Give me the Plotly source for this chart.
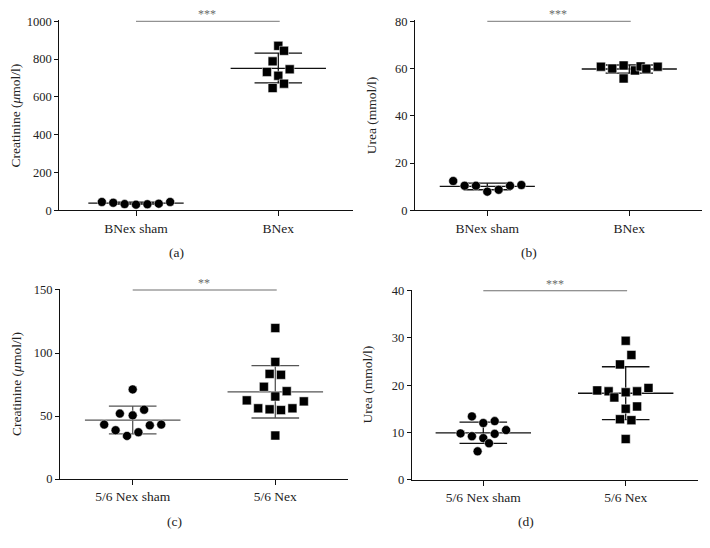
import plotly.graph_objects as go

# ---------------- data ----------------
groups_ab = ["BNex sham", "BNex"]
groups_cd = ["5/6 Nex sham", "5/6 Nex"]

# (a) Creatinine, BNex
a_sham = [44, 40, 33, 30, 32, 35, 44]
a_sham_dx = [-0.24, -0.16, -0.08, 0.0, 0.08, 0.16, 0.24]
a_bnex = [870, 844, 788, 746, 732, 712, 670, 647]
a_bnex_dx = [0.0, 0.04, -0.04, 0.08, -0.08, 0.0, 0.04, -0.04]
a_mean = [38, 751]
a_sd_lo = [33, 674]
a_sd_hi = [43, 832]

# (b) Urea, BNex
b_sham = [12.4, 10.4, 10.4, 7.9, 8.7, 10.4, 10.7]
b_sham_dx = [-0.24, -0.16, -0.08, 0.0, 0.08, 0.16, 0.24]
b_bnex = [60.8, 60.0, 61.3, 55.8, 59.2, 60.9, 59.9, 60.8]
b_bnex_dx = [-0.2, -0.12, -0.04, -0.04, 0.04, 0.08, 0.12, 0.2]
b_mean = [10.1, 59.8]
b_sd_lo = [8.7, 58.1]
b_sd_hi = [11.5, 61.5]

# (c) Creatinine, 5/6 Nex
c_sham = [71.1, 51.9, 50.5, 55.0, 43.2, 38.7, 34.2, 37.1, 42.6, 43.2]
c_sham_dx = [0.0, -0.09, 0.0, 0.08, -0.2, -0.12, -0.04, 0.04, 0.12, 0.2]
c_nex = [119.8, 92.9, 83.4, 82.7, 73.2, 69.7, 65.5, 62.4, 56.1, 55.3, 54.7, 56.1, 61.6, 34.5]
c_nex_dx = [0.0, 0.0, -0.04, 0.04, -0.08, 0.08, 0.0, -0.2, -0.12, -0.04, 0.04, 0.12, 0.2, 0.0]
c_mean = [46.8, 69.2]
c_sd_lo = [35.8, 48.4]
c_sd_hi = [57.9, 90.0]

# (d) Urea, 5/6 Nex
d_sham = [13.4, 12.0, 12.4, 9.8, 9.2, 8.8, 9.7, 10.5, 7.7, 6.0]
d_sham_dx = [-0.08, 0.0, 0.08, -0.16, -0.08, 0.0, 0.08, 0.16, 0.04, -0.04]
d_nex = [29.4, 26.4, 24.4, 18.9, 18.7, 17.4, 18.5, 18.7, 19.4, 15.0, 15.5, 12.8, 12.6, 8.6]
d_nex_dx = [0.0, 0.04, -0.04, -0.2, -0.12, -0.08, 0.0, 0.08, 0.16, 0.0, 0.08, -0.04, 0.04, 0.0]
d_mean = [9.9, 18.3]
d_sd_lo = [7.7, 12.7]
d_sd_hi = [12.2, 23.9]

y_titles = ["Creatinine (<i>μ</i>mol/l)", "Urea (mmol/l)", "Creatinine (<i>μ</i>mol/l)", "Urea (mmol/l)"]
y_max = [1000, 80, 150, 40]
y_dtick = [200, 20, 50, 10]
stars = ["***", "***", "**", "***"]
panel_labels = ["(a)", "(b)", "(c)", "(d)"]

# ---------------- layout geometry (pixels, page coordinates) ----------------
W, H = 710, 548
OFF = 8  # default page body margin
FONT = "Liberation Serif"
TXT = "#222222"

panels = [
    dict(sham=a_sham, sdx=a_sham_dx, trt=a_bnex, tdx=a_bnex_dx, mean=a_mean, lo=a_sd_lo, hi=a_sd_hi,
         cats=groups_ab, x0=59.3, x1=352.7, y0=20.3, y1=210.3, c0=136.0, c1=278.3, lc="#111111"),
    dict(sham=b_sham, sdx=b_sham_dx, trt=b_bnex, tdx=b_bnex_dx, mean=b_mean, lo=b_sd_lo, hi=b_sd_hi,
         cats=groups_ab, x0=415.0, x1=701.7, y0=20.3, y1=210.3, c0=487.3, c1=629.3, lc="#111111"),
    dict(sham=c_sham, sdx=c_sham_dx, trt=c_nex, tdx=c_nex_dx, mean=c_mean, lo=c_sd_lo, hi=c_sd_hi,
         cats=groups_cd, x0=60.0, x1=348.0, y0=289.0, y1=479.0, c0=132.7, c1=275.3, lc="#555555"),
    dict(sham=d_sham, sdx=d_sham_dx, trt=d_nex, tdx=d_nex_dx, mean=d_mean, lo=d_sd_lo, hi=d_sd_hi,
         cats=groups_cd, x0=411.7, x1=698.3, y0=289.7, y1=479.7, c0=483.3, c1=625.7, lc="#111111"),
]


def px(v):
    return (v - OFF) / W


def py(v):
    return 1 - (v - OFF) / H


fig = go.Figure()
layout = dict(width=W, height=H, margin=dict(l=0, r=0, t=0, b=0, autoexpand=False),
              paper_bgcolor="white", plot_bgcolor="white", showlegend=False,
              font=dict(family=FONT, size=13, color=TXT))
annotations = []

MEAN_HW = 0.335
SD_HW = 0.167

for i, p in enumerate(panels):
    sfx = "" if i == 0 else str(i + 1)
    xa, ya = "x" + sfx, "y" + sfx
    sp = p["c1"] - p["c0"]
    xr = [-(p["c0"] - p["x0"]) / sp, 1 + (p["x1"] - p["c1"]) / sp]
    ymax = y_max[i]
    top = ymax * (1 + 1.0 / (p["y1"] - p["y0"]))

    # error bars (mean line, SD caps, vertical)
    ex, ey = [], []
    for k in range(2):
        m, lo, hi = p["mean"][k], p["lo"][k], p["hi"][k]
        ex += [k - MEAN_HW, k + MEAN_HW, None, k - SD_HW, k + SD_HW, None,
               k - SD_HW, k + SD_HW, None, k, k, None]
        ey += [m, m, None, hi, hi, None, lo, lo, None, lo, hi, None]
    fig.add_trace(go.Scatter(x=ex, y=ey, mode="lines", xaxis=xa, yaxis=ya,
                             line=dict(color=p["lc"], width=1.3), hoverinfo="skip"))

    # significance line
    fig.add_trace(go.Scatter(x=[0, 1.01], y=[ymax, ymax], mode="lines", xaxis=xa, yaxis=ya,
                             line=dict(color="#6e6e6e", width=1.1), hoverinfo="skip"))

    # points
    fig.add_trace(go.Scatter(x=[0 + d for d in p["sdx"]], y=p["sham"], mode="markers",
                             xaxis=xa, yaxis=ya,
                             marker=dict(symbol="circle", size=9, color="black",
                                         line=dict(color="white", width=0.5))))
    fig.add_trace(go.Scatter(x=[1 + d for d in p["tdx"]], y=p["trt"], mode="markers",
                             xaxis=xa, yaxis=ya,
                             marker=dict(symbol="square", size=9, color="black",
                                         line=dict(color="white", width=0.5))))

    layout["xaxis" + sfx] = dict(domain=[px(p["x0"]), px(p["x1"])], range=xr, anchor=ya,
                                 automargin=False,
                                 showgrid=False, zeroline=False, showline=True,
                                 linecolor="#111111", linewidth=1, ticks="outside",
                                 ticklen=5, tickcolor="#111111", tickwidth=1,
                                 tickvals=[0, 1], ticktext=p["cats"],
                                 tickfont=dict(family=FONT, size=13.5, color=TXT))
    layout["yaxis" + sfx] = dict(domain=[py(p["y1"]), py(p["y0"])], range=[0, top],
                                 anchor=xa, automargin=False,
                                 showgrid=False, zeroline=False, showline=True,
                                 linecolor="#111111", linewidth=1, ticks="outside",
                                 ticklen=4, tickcolor="#111111", tickwidth=1,
                                 tickvals=list(range(0, ymax + 1, y_dtick[i])),
                                 tickfont=dict(family=FONT, size=12.5, color=TXT))

    # y title
    annotations.append(dict(xref="paper", yref="paper", x=px(p["x0"] - 44),
                            y=py((p["y0"] + p["y1"]) / 2), text=y_titles[i],
                            textangle=-90, showarrow=False, xanchor="center", yanchor="middle",
                            font=dict(family=FONT, size=13.5, color=TXT)))
    # stars
    annotations.append(dict(xref=xa, yref=ya, x=0.5, y=ymax, text=stars[i], showarrow=False,
                            xanchor="center", yanchor="bottom", yshift=-2,
                            font=dict(family=FONT, size=12, color="#6a6a6a")))
    # panel label
    annotations.append(dict(xref="paper", yref="paper", x=px((p["x0"] - 59 + p["x1"]) / 2),
                            y=py(p["y1"] + 42), text=panel_labels[i], showarrow=False,
                            xanchor="center", yanchor="middle",
                            font=dict(family=FONT, size=13.5, color=TXT)))

layout["annotations"] = annotations
fig.update_layout(**layout)
fig.write_html("out.html")
